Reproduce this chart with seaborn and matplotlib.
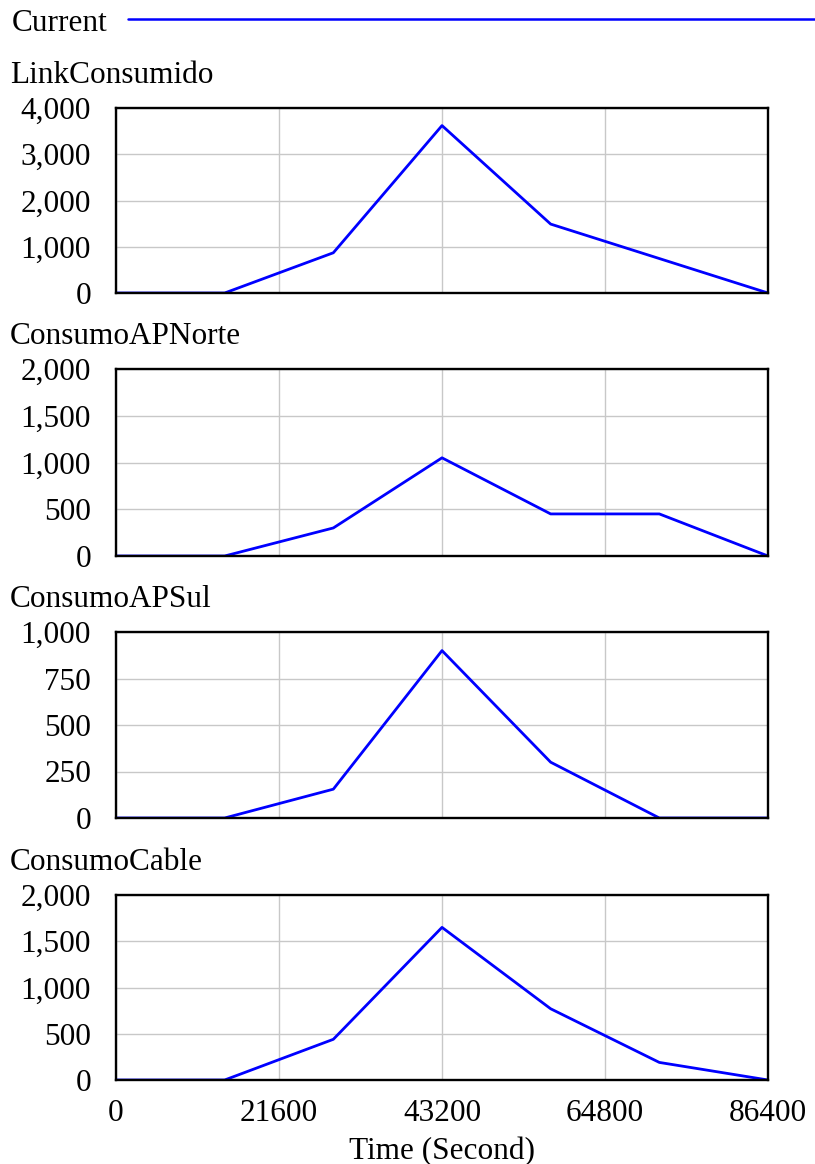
import pandas as pd
import matplotlib.pyplot as plt
import seaborn as sns

# ---- Data (breakpoints) ----
time_link = [0, 14400, 28800, 43200, 57600, 86400]
link_consumido = [0, 0, 870, 3620, 1490, 0]

time_norte = [0, 14400, 28800, 43200, 57600, 72000, 86400]
consumo_ap_norte = [0, 0, 300, 1050, 450, 450, 0]

time_sul = [0, 14400, 28800, 43200, 57600, 72000, 86400]
consumo_ap_sul = [0, 0, 155, 900, 300, 0, 0]

time_cable = [0, 14400, 28800, 43200, 57600, 72000, 86400]
consumo_cable = [0, 0, 440, 1650, 770, 190, 0]

titles = ["LinkConsumido", "ConsumoAPNorte", "ConsumoAPSul", "ConsumoCable"]
series = [(time_link, link_consumido), (time_norte, consumo_ap_norte),
          (time_sul, consumo_ap_sul), (time_cable, consumo_cable)]
y_max = [4000, 2000, 1000, 2000]
y_step = [1000, 500, 250, 500]
x_ticks = [0, 21600, 43200, 64800, 86400]

# ---- Style ----
sns.set_style("white")
plt.rcParams['font.family'] = ['Liberation Serif', 'DejaVu Serif']
plt.rcParams['font.size'] = 22.5
plt.rcParams['text.color'] = 'black'
plt.rcParams['axes.labelcolor'] = 'black'
plt.rcParams['xtick.color'] = 'black'
plt.rcParams['ytick.color'] = 'black'

W, H = 815, 1164
fig = plt.figure(figsize=(W / 100, H / 100), dpi=100)

# pixel boxes (top, bottom) of each panel
boxes = [(108, 293), (369, 556), (632, 818), (895, 1080)]
left_px, right_px = 116, 768

for i, ((top, bot), title, (t, v)) in enumerate(zip(boxes, titles, series)):
    ax = fig.add_axes([left_px / W, 1 - bot / H, (right_px - left_px) / W, (bot - top) / H])
    df = pd.DataFrame({"Time": t, "Value": v})
    sns.lineplot(data=df, x="Time", y="Value", ax=ax, color="#0000FF", linewidth=2.0)
    ax.set_xlim(0, 86400)
    ax.set_ylim(0, y_max[i])
    yt = list(range(0, y_max[i] + 1, y_step[i]))
    ax.set_yticks(yt)
    ax.set_yticklabels([f"{y:,}" for y in yt])
    ax.set_xticks(x_ticks)
    ax.grid(True, color="#c8c8c8", linewidth=1.0)
    ax.tick_params(axis="both", length=0, pad=18)
    for s in ax.spines.values():
        s.set_color("black")
        s.set_linewidth(1.7)
        s.set_visible(True)
    ax.set_ylabel("")
    if i < 3:
        ax.set_xticklabels([])
        ax.set_xlabel("")
    else:
        ax.set_xticklabels([str(x) for x in x_ticks])
        ax.tick_params(axis="x", pad=14)
        ax.set_xlabel("Time (Second)", labelpad=6)
    fig.text(10 / W, 1 - (top - 25) / H, title, ha="left", va="baseline")

# ---- "Current" legend line at top ----
fig.text(12 / W, 1 - 31 / H, "Current", ha="left", va="baseline")
fig.add_artist(plt.Line2D([128 / W, 1.0], [1 - 19 / H, 1 - 19 / H],
                          color="#0000FF", linewidth=1.8, transform=fig.transFigure))

fig.savefig("out.png", dpi=100)
